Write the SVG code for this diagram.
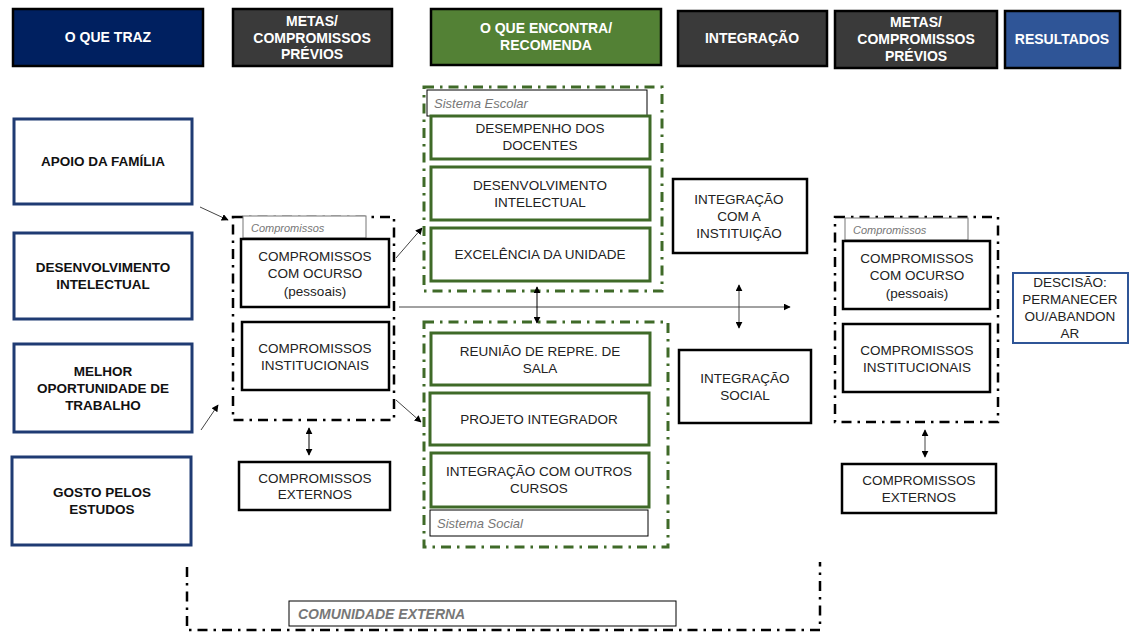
<svg xmlns="http://www.w3.org/2000/svg" width="1130" height="632" viewBox="0 0 1130 632">
<defs>
<marker id="ah" viewBox="0 0 10 10" refX="9" refY="5" markerWidth="7" markerHeight="7" orient="auto-start-reverse" markerUnits="userSpaceOnUse">
<path d="M0,0 L10,5 L0,10 z" fill="#000"/>
</marker>
<style>
text{font-family:"Liberation Sans",Arial,sans-serif;text-anchor:middle}
.hdr{stroke:#000;stroke-width:2.5}
.ht{fill:#fff;font-weight:bold;font-size:14px}
.lb{fill:#fff;stroke:#1f3b73;stroke-width:3}
.lt{fill:#111;font-weight:bold;font-size:13.5px}
.bb{fill:#fff;stroke:#000;stroke-width:2.5}
.gb{fill:#fff;stroke:#3f6a28;stroke-width:3}
.t{fill:#222;font-size:13.5px}
.dd{fill:none;stroke:#000;stroke-width:2.5;stroke-dasharray:10 6 2.5 6}
.gd{fill:none;stroke:#3f6a28;stroke-width:3;stroke-dasharray:10 6 2.5 6}
.lab{fill:#fff;stroke:#000;stroke-width:1}
.labg{fill:#fff;stroke:#777;stroke-width:1}
.it{fill:#777;font-style:italic;font-size:13px;text-anchor:start}
.its{fill:#777;font-style:italic;font-size:11px;text-anchor:start}
.conn{stroke:#444;stroke-width:1;fill:none}
.conb{stroke:#000;stroke-width:1;fill:none}
</style>
</defs>
<rect width="1130" height="632" fill="#fff"/>

<g id="headers">
<g id="h1"><rect class="hdr" x="13" y="9" width="190" height="57" fill="#002060"/><text class="ht" x="108" y="42">O QUE TRAZ</text></g>
<g id="h2"><rect class="hdr" x="233" y="9" width="159" height="57" fill="#3a3a3a"/><text class="ht" x="312" y="26">METAS/</text><text class="ht" x="312" y="43">COMPROMISSOS</text><text class="ht" x="312" y="59">PRÉVIOS</text></g>
<g id="h3"><rect class="hdr" x="431" y="9" width="230" height="56" fill="#538135"/><text class="ht" x="546" y="33">O QUE ENCONTRA/</text><text class="ht" x="546" y="50">RECOMENDA</text></g>
<g id="h4"><rect class="hdr" x="678" y="11" width="149" height="55" fill="#3a3a3a"/><text class="ht" x="752" y="43">INTEGRAÇÃO</text></g>
<g id="h5"><rect class="hdr" x="835" y="11" width="162" height="57" fill="#3a3a3a"/><text class="ht" x="916" y="27">METAS/</text><text class="ht" x="916" y="44">COMPROMISSOS</text><text class="ht" x="916" y="61">PRÉVIOS</text></g>
<g id="h6"><rect class="hdr" x="1005" y="11" width="115" height="57" fill="#2f5597"/><text class="ht" x="1062" y="44">RESULTADOS</text></g>
</g>

<g id="containers">
<rect class="dd" x="233" y="217" width="161" height="203"/>
<rect class="dd" x="835" y="217" width="163" height="205"/>
<rect class="gd" x="424" y="87" width="238" height="204"/>
<rect class="gd" x="424" y="322" width="244" height="225"/>
<path class="dd" d="M187,567 L187,630 L820,630 L820,562"/>
</g>

<g id="left">
<g id="apoio"><rect class="lb" x="14" y="119" width="178" height="85"/><text class="lt" x="103" y="166">APOIO DA FAMÍLIA</text></g>
<g id="desenv"><rect class="lb" x="14" y="233" width="178" height="86"/><text class="lt" x="103" y="272">DESENVOLVIMENTO</text><text class="lt" x="103" y="289">INTELECTUAL</text></g>
<g id="melhor"><rect class="lb" x="14" y="344" width="178" height="88"/><text class="lt" x="103" y="376">MELHOR</text><text class="lt" x="103" y="393">OPORTUNIDADE DE</text><text class="lt" x="103" y="410">TRABALHO</text></g>
<g id="gosto"><rect class="lb" x="12" y="457" width="179" height="88"/><text class="lt" x="102" y="497">GOSTO PELOS</text><text class="lt" x="102" y="514">ESTUDOS</text></g>
</g>

<g id="metas-left">
<g id="lab-comp-l"><rect class="labg" x="243" y="216" width="123" height="22"/><text class="its" x="251" y="232">Compromissos</text></g>
<g id="comp-curso-l"><rect class="bb" x="241" y="239" width="148" height="68"/><text class="t" x="315" y="261">COMPROMISSOS</text><text class="t" x="315" y="278">COM OCURSO</text><text class="t" x="315" y="296">(pessoais)</text></g>
<g id="comp-inst-l"><rect class="bb" x="242" y="322" width="147" height="68"/><text class="t" x="315" y="353">COMPROMISSOS</text><text class="t" x="315" y="370">INSTITUCIONAIS</text></g>
<g id="comp-ext-l"><rect class="bb" x="239" y="462" width="151" height="48"/><text class="t" x="315" y="483">COMPROMISSOS</text><text class="t" x="315" y="499">EXTERNOS</text></g>
</g>

<g id="escolar">
<g id="lab-escolar"><rect class="lab" x="427" y="90" width="220" height="26"/><text class="it" x="434" y="108">Sistema Escolar</text></g>
<g id="docentes"><rect class="gb" x="431" y="116" width="219" height="43"/><text class="t" x="540" y="133">DESEMPENHO DOS</text><text class="t" x="540" y="150">DOCENTES</text></g>
<g id="desenv-int"><rect class="gb" x="431" y="167" width="219" height="53"/><text class="t" x="540" y="190">DESENVOLVIMENTO</text><text class="t" x="540" y="207">INTELECTUAL</text></g>
<g id="excelencia"><rect class="gb" x="431" y="228" width="219" height="53"/><text class="t" x="540" y="259">EXCELÊNCIA DA UNIDADE</text></g>
</g>

<g id="social">
<g id="reuniao"><rect class="gb" x="431" y="333" width="219" height="52"/><text class="t" x="540" y="356">REUNIÃO DE REPRE. DE</text><text class="t" x="540" y="373">SALA</text></g>
<g id="projeto"><rect class="gb" x="430" y="393" width="219" height="52"/><text class="t" x="539" y="424">PROJETO INTEGRADOR</text></g>
<g id="outros"><rect class="gb" x="431" y="453" width="218" height="54"/><text class="t" x="539" y="476">INTEGRAÇÃO COM OUTROS</text><text class="t" x="539" y="493">CURSOS</text></g>
<g id="lab-social"><rect class="lab" x="430" y="510" width="218" height="26"/><text class="it" x="437" y="528">Sistema Social</text></g>
</g>

<g id="integracao">
<g id="int-inst"><rect class="bb" x="673" y="179" width="134" height="74"/><text class="t" x="739" y="204">INTEGRAÇÃO</text><text class="t" x="739" y="221">COM A</text><text class="t" x="739" y="238">INSTITUIÇÃO</text></g>
<g id="int-social"><rect class="bb" x="679" y="350" width="132" height="73"/><text class="t" x="745" y="383">INTEGRAÇÃO</text><text class="t" x="745" y="400">SOCIAL</text></g>
</g>

<g id="metas-right">
<g id="lab-comp-r"><rect class="labg" x="845" y="218" width="123" height="22"/><text class="its" x="853" y="234">Compromissos</text></g>
<g id="comp-curso-r"><rect class="bb" x="843" y="241" width="147" height="68"/><text class="t" x="917" y="263">COMPROMISSOS</text><text class="t" x="917" y="280">COM OCURSO</text><text class="t" x="917" y="298">(pessoais)</text></g>
<g id="comp-inst-r"><rect class="bb" x="843" y="324" width="147" height="68"/><text class="t" x="917" y="355">COMPROMISSOS</text><text class="t" x="917" y="372">INSTITUCIONAIS</text></g>
<g id="comp-ext-r"><rect class="bb" x="842" y="464" width="154" height="49"/><text class="t" x="919" y="485">COMPROMISSOS</text><text class="t" x="919" y="502">EXTERNOS</text></g>
</g>

<g id="decisao"><rect x="1013" y="273" width="115" height="70" fill="#fff" stroke="#2f5597" stroke-width="2"/><text class="t" x="1070" y="287">DESCISÃO:</text><text class="t" x="1070" y="304">PERMANECER</text><text class="t" x="1070" y="321">OU/ABANDON</text><text class="t" x="1070" y="338">AR</text></g>

<g id="comunidade"><rect class="lab" x="289" y="601" width="387" height="25"/><text x="298" y="619" style="text-anchor:start;font-weight:bold;font-style:italic;font-size:14px;fill:#777">COMUNIDADE EXTERNA</text></g>

<g id="connectors">
<line class="conn" x1="200" y1="207" x2="228" y2="220" marker-end="url(#ah)"/>
<line class="conn" x1="201" y1="430" x2="218" y2="405" marker-end="url(#ah)"/>
<line class="conn" x1="396" y1="258" x2="422" y2="228" marker-end="url(#ah)"/>
<line class="conn" x1="396" y1="400" x2="421" y2="422" marker-end="url(#ah)"/>
<line class="conn" x1="399" y1="307" x2="790" y2="307" marker-end="url(#ah)"/>
<line class="conb" x1="537" y1="287" x2="537" y2="323" marker-start="url(#ah)" marker-end="url(#ah)"/>
<line class="conn" x1="739" y1="285" x2="739" y2="328" marker-start="url(#ah)" marker-end="url(#ah)"/>
<line class="conb" x1="309" y1="428" x2="309" y2="455" marker-start="url(#ah)" marker-end="url(#ah)"/>
<line class="conn" x1="925" y1="430" x2="925" y2="457" marker-start="url(#ah)" marker-end="url(#ah)"/>
</g>
</svg>
